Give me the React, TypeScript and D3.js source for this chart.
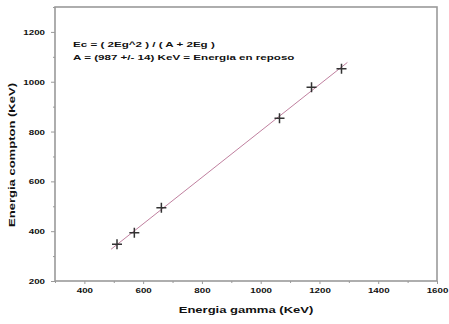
import React, { useRef, useEffect } from "react";
import * as d3 from "d3";

// gamma energies (KeV) and measured compton edges (KeV)
const gammaEnergy = [511, 570, 662, 1064, 1173, 1275];
const comptonEnergy = [348, 394, 494, 853, 978, 1052];
const xTicks = [400, 600, 800, 1000, 1200, 1400, 1600];
const yTicks = [200, 400, 600, 800, 1000, 1200];
const formulaLines = [
  "Ec = ( 2Eg^2 ) / ( A + 2Eg )",
  "A = (987 +/- 14) KeV = Energia en reposo",
];

const W = 449;
const H = 324;
const M = { left: 55, right: 12, top: 7, bottom: 43 };
// the original text is stretched sideways
const SX = 1.3;
const SX_TITLE = 1.45;

const App = () => {
  const ref = useRef<SVGSVGElement>(null);

  useEffect(() => {
    const svg = d3.select(ref.current);
    svg.selectAll("*").remove();

    const x = d3.scaleLinear().domain([300, 1600]).range([M.left, W - M.right]);
    const y = d3.scaleLinear().domain([200, 1300]).range([H - M.bottom, M.top]);
    const font = "Liberation Sans, Arial, sans-serif";
    const axisColor = "#9a9a9a";

    // frame
    svg
      .append("rect")
      .attr("x", M.left)
      .attr("y", M.top)
      .attr("width", W - M.left - M.right)
      .attr("height", H - M.top - M.bottom)
      .attr("fill", "white")
      .attr("stroke", axisColor)
      .attr("stroke-width", 1.6);

    // x axis
    const gx = svg.append("g").attr("transform", `translate(0,${H - M.bottom})`);
    gx.call(d3.axisBottom(x).tickValues(d3.range(300, 1601, 100)).tickSize(3).tickFormat(() => ""));
    gx.selectAll(".tick")
      .filter((d: any) => xTicks.includes(d))
      .append("text")
      .attr("transform", `translate(0,12) scale(${SX},1)`)
      .attr("text-anchor", "middle")
      .attr("fill", "#111")
      .text((d: any) => d);
    gx.selectAll(".tick line").attr("stroke", axisColor);
    gx.selectAll(".tick")
      .filter((d: any) => !xTicks.includes(d))
      .select("line")
      .attr("y2", 2);
    gx.select(".domain").remove();

    // y axis
    const gy = svg.append("g").attr("transform", `translate(${M.left},0)`);
    gy.call(d3.axisLeft(y).tickValues(d3.range(200, 1301, 100)).tickSize(4).tickFormat(() => ""));
    gy.selectAll(".tick")
      .filter((d: any) => yTicks.includes(d))
      .append("text")
      .attr("transform", `translate(-10,0) scale(${SX},1)`)
      .attr("dy", "0.35em")
      .attr("text-anchor", "end")
      .attr("fill", "#111")
      .text((d: any) => d);
    gy.selectAll(".tick line").attr("stroke", axisColor);
    gy.selectAll(".tick")
      .filter((d: any) => !yTicks.includes(d))
      .select("line")
      .attr("x2", -2);
    gy.select(".domain").remove();

    svg.selectAll(".tick text")
      .attr("font-family", font)
      .attr("font-size", 7.5)
      .attr("font-weight", "bold");

    // linear fit
    const mx = d3.mean(gammaEnergy)!;
    const my = d3.mean(comptonEnergy)!;
    const sxy = d3.sum(gammaEnergy, (g, i) => (g - mx) * (comptonEnergy[i] - my));
    const sxx = d3.sum(gammaEnergy, (g) => (g - mx) ** 2);
    const slope = sxy / sxx;
    const icpt = my - slope * mx;
    const x0 = d3.min(gammaEnergy)! - 20;
    const x1 = d3.max(gammaEnergy)! + 20;
    svg
      .append("line")
      .attr("x1", x(x0))
      .attr("y1", y(icpt + slope * x0))
      .attr("x2", x(x1))
      .attr("y2", y(icpt + slope * x1))
      .attr("stroke", "#c0809f")
      .attr("stroke-width", 1);

    // markers
    const s = 5;
    const pts = svg
      .selectAll("g.pt")
      .data(gammaEnergy)
      .enter()
      .append("g")
      .attr("transform", (d, i) => `translate(${x(d)},${y(comptonEnergy[i])})`);
    pts.append("path")
      .attr("d", `M${-s},0H${s}M0,${-s}V${s}`)
      .attr("stroke", "#333")
      .attr("stroke-width", 1.5);

    // formula text
    svg
      .append("g")
      .selectAll("text")
      .data(formulaLines)
      .enter()
      .append("text")
      .attr("transform", (d, i) => `translate(73,${47 + i * 13}) scale(${SX_TITLE},1)`)
      .attr("font-family", font)
      .attr("font-size", 8)
      .attr("font-weight", "bold")
      .attr("fill", "#111")
      .text((d) => d);

    // axis titles
    svg
      .append("text")
      .attr("transform", `translate(${(M.left + W - M.right) / 2},313) scale(${SX_TITLE},1)`)
      .attr("text-anchor", "middle")
      .attr("font-family", font)
      .attr("font-size", 9)
      .attr("font-weight", "bold")
      .attr("fill", "#111")
      .text("Energia gamma (KeV)");

    svg
      .append("text")
      .attr("transform", `translate(15,155) rotate(-90) scale(${SX_TITLE},1)`)
      .attr("text-anchor", "middle")
      .attr("font-family", font)
      .attr("font-size", 9)
      .attr("font-weight", "bold")
      .attr("fill", "#111")
      .text("Energia compton (KeV)");
  }, []);

  return (
    <svg
      ref={ref}
      width={W}
      height={H}
      style={{ position: "absolute", left: 0, top: 0, background: "white" }}
    />
  );
};

export default App;
